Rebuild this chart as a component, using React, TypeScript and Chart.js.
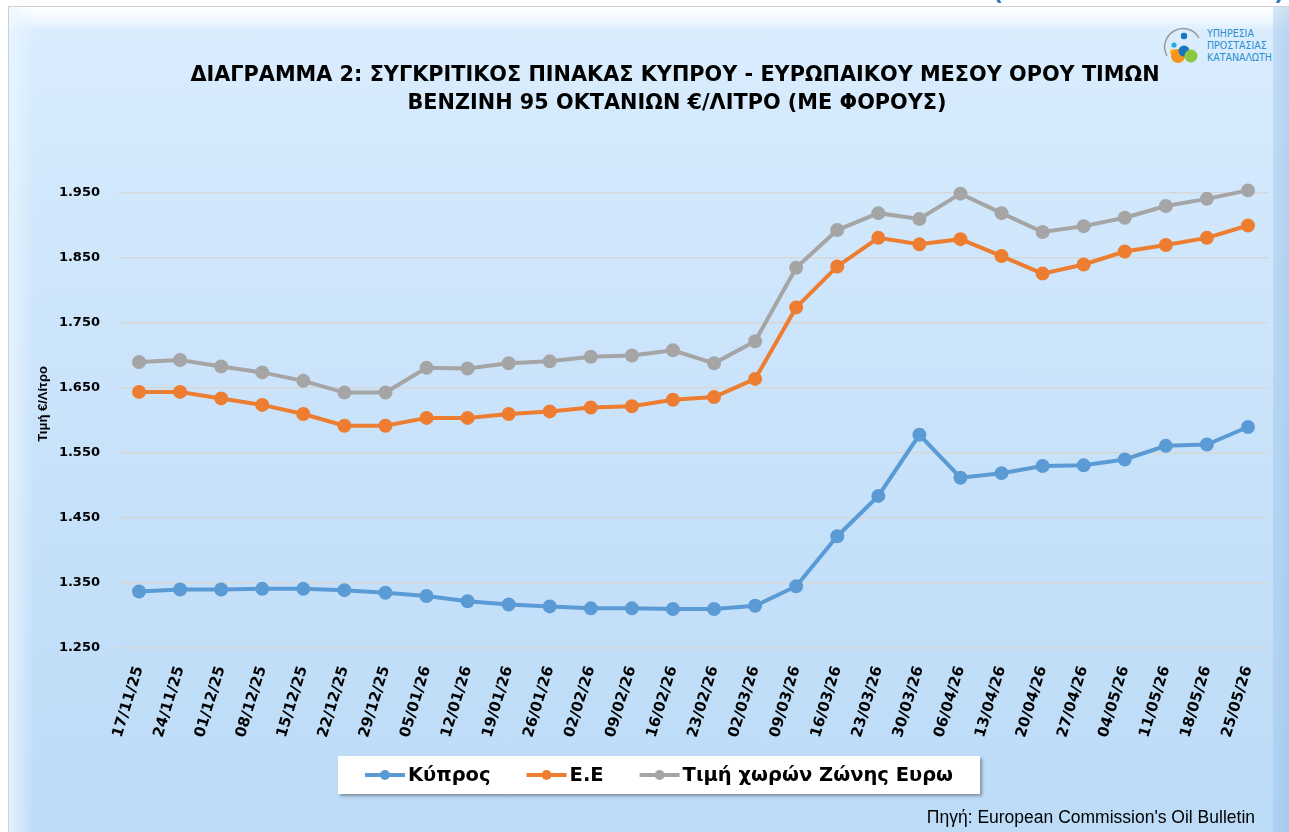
import React, { useEffect, useRef } from 'react';
import { Chart, registerables } from 'chart.js';

Chart.register(...registerables);

const dates = [
  '17/11/25', '24/11/25', '01/12/25', '08/12/25', '15/12/25', '22/12/25', '29/12/25',
  '05/01/26', '12/01/26', '19/01/26', '26/01/26', '02/02/26', '09/02/26', '16/02/26',
  '23/02/26', '02/03/26', '09/03/26', '16/03/26', '23/03/26', '30/03/26', '06/04/26',
  '13/04/26', '20/04/26', '27/04/26', '04/05/26', '11/05/26', '18/05/26', '25/05/26',
];

const cyprusPrices = [
  1.337, 1.340, 1.340, 1.341, 1.341, 1.339, 1.335, 1.330, 1.322, 1.317, 1.314, 1.311, 1.311, 1.310,
  1.310, 1.315, 1.345, 1.422, 1.484, 1.578, 1.512, 1.519, 1.530, 1.531, 1.540, 1.561, 1.563, 1.590,
];

const euPrices = [
  1.644, 1.644, 1.634, 1.624, 1.610, 1.592, 1.592, 1.604, 1.604, 1.610, 1.614, 1.620, 1.622, 1.632,
  1.636, 1.664, 1.774, 1.837, 1.881, 1.871, 1.879, 1.853, 1.826, 1.840, 1.860, 1.870, 1.881, 1.900,
];

const euroZonePrices = [
  1.690, 1.693, 1.683, 1.674, 1.661, 1.643, 1.643, 1.681, 1.680, 1.688, 1.691, 1.698, 1.700, 1.708,
  1.688, 1.722, 1.835, 1.893, 1.919, 1.910, 1.949, 1.919, 1.890, 1.899, 1.912, 1.930, 1.941, 1.954,
];

const seriesNames = ['Κύπρος', 'Ε.Ε', 'Τιμή χωρών Ζώνης Ευρω'];
const seriesColors = ['#5b9bd5', '#ed7d31', '#a5a5a5'];

const Y_MIN = 1.25;
const Y_MAX = 1.95;
const Y_STEP = 0.1;

const titleLines = [
  'ΔΙΑΓΡΑΜΜΑ 2: ΣΥΓΚΡΙΤΙΚΟΣ ΠΙΝΑΚΑΣ ΚΥΠΡΟΥ - ΕΥΡΩΠΑΙΚΟΥ ΜΕΣΟΥ ΟΡΟΥ ΤΙΜΩΝ',
  'ΒΕΝΖΙΝΗ 95 ΟΚΤΑΝΙΩΝ €/ΛΙΤΡΟ (ΜΕ ΦΟΡΟΥΣ)',
];
const yAxisTitle = 'Τιμή €/Λίτρο';
const sourceText = "Πηγή: European Commission's Oil Bulletin";

const decorPlugin = {
  id: 'decor',
  afterDraw(chart: any) {
    const ctx: CanvasRenderingContext2D = chart.ctx;
    // Title
    ctx.save();
    ctx.fillStyle = '#000';
    ctx.textAlign = 'center';
    ctx.textBaseline = 'alphabetic';
    ctx.font = 'bold 20.8px "DejaVu Sans"';
    ctx.fillText(titleLines[0], 675, 81);
    ctx.fillText(titleLines[1], 677, 109);
    ctx.restore();

    // Y axis title
    ctx.save();
    ctx.translate(43, 404);
    ctx.rotate(-Math.PI / 2);
    ctx.font = 'bold 13px "Liberation Sans"';
    ctx.fillStyle = '#000';
    ctx.textAlign = 'center';
    ctx.textBaseline = 'middle';
    ctx.fillText(yAxisTitle, 0, 0);
    ctx.restore();

    // Legend box
    const bx = 338, by = 756, bw = 642, bh = 38;
    ctx.save();
    ctx.shadowColor = 'rgba(0,0,0,0.35)';
    ctx.shadowBlur = 3;
    ctx.shadowOffsetX = 2;
    ctx.shadowOffsetY = 2;
    ctx.fillStyle = '#ffffff';
    ctx.fillRect(bx, by, bw, bh);
    ctx.restore();

    ctx.save();
    ctx.font = 'bold 19.5px "DejaVu Sans"';
    ctx.textBaseline = 'middle';
    ctx.textAlign = 'left';
    const markerW = 40, gapMT = 3, gapItems = 36;
    const items = chart.data.datasets.map((ds: any) => ({
      label: ds.label as string,
      color: ds.borderColor as string,
      w: ctx.measureText(ds.label).width,
    }));
    const total = items.reduce((s: number, it: any) => s + markerW + gapMT + it.w, 0) + gapItems * (items.length - 1);
    let x = bx + (bw - total) / 2;
    const cy = by + bh / 2;
    items.forEach((it: any) => {
      ctx.strokeStyle = it.color;
      ctx.lineWidth = 4;
      ctx.beginPath();
      ctx.moveTo(x, cy);
      ctx.lineTo(x + markerW, cy);
      ctx.stroke();
      ctx.fillStyle = it.color;
      ctx.beginPath();
      ctx.arc(x + markerW / 2, cy, 5, 0, Math.PI * 2);
      ctx.fill();
      ctx.fillStyle = '#000';
      ctx.fillText(it.label, x + markerW + gapMT, cy + 1);
      x += markerW + gapMT + it.w + gapItems;
    });
    ctx.restore();

    // Source
    ctx.save();
    ctx.font = '17.5px "Liberation Sans"';
    ctx.fillStyle = '#000';
    ctx.textAlign = 'right';
    ctx.textBaseline = 'alphabetic';
    ctx.fillText(sourceText, 1255, 823);
    ctx.restore();
  },
};

export default function App() {
  const canvasRef = useRef<HTMLCanvasElement | null>(null);

  useEffect(() => {
    if (!canvasRef.current) return;
    const datasets = [cyprusPrices, euPrices, euroZonePrices].map((data, i) => ({
      label: seriesNames[i],
      data,
      borderColor: seriesColors[i],
      backgroundColor: seriesColors[i],
      pointBackgroundColor: seriesColors[i],
      pointBorderColor: seriesColors[i],
      borderWidth: 4,
      pointRadius: 5,
      pointHoverRadius: 5,
      tension: 0,
      clip: false as any,
    }));

    const chart = new Chart(canvasRef.current, {
      type: 'line',
      data: { labels: dates, datasets },
      options: {
        responsive: false,
        animation: false,
        devicePixelRatio: 1,
        layout: { padding: { left: 0, right: 20.5, top: 193, bottom: 64 } },
        plugins: {
          legend: { display: false },
          title: { display: false },
          tooltip: { enabled: false },
        },
        scales: {
          x: {
            offset: true,
            grid: { display: false, drawTicks: false },
            border: { display: false },
            ticks: {
              autoSkip: false,
              minRotation: 73,
              maxRotation: 73,
              padding: 16,
              color: '#000',
              font: { family: '"DejaVu Sans"', weight: 'bold', size: 15 },
            },
            afterFit(scale: any) {
              scale.height = 120;
            },
          },
          y: {
            min: Y_MIN,
            max: Y_MAX,
            grid: { color: 'rgba(214,214,214,0.95)', lineWidth: 1.5, drawTicks: false },
            border: { display: false },
            ticks: {
              stepSize: Y_STEP,
              padding: 18.5,
              color: '#000',
              font: { family: '"DejaVu Sans"', weight: 'bold', size: 13 },
              callback: (v: any) => Number(v).toFixed(3),
            },
            afterFit(scale: any) {
              scale.width = 118.5;
            },
          },
        },
      },
      plugins: [decorPlugin],
    });
    return () => chart.destroy();
  }, []);

  return (
    <div style={{ position: 'fixed', left: 0, top: 0, width: 1289, height: 832, background: '#fff', overflow: 'hidden' }}>
      <div style={{ position: 'absolute', left: 993, top: -20, color: '#2e75b6', font: 'bold 22px "DejaVu Sans"' }}>(</div>
      <div style={{ position: 'absolute', left: 1274, top: -20, color: '#2e75b6', font: 'bold 22px "DejaVu Sans"' }}>)</div>
      <div
        style={{
          position: 'absolute', left: 8, top: 6, width: 1300, height: 840,
          borderLeft: '1px solid #cfcfcf', borderTop: '1px solid #cfcfcf',
          background: 'linear-gradient(to bottom, #dbeefe 0%, #d2e8fc 20%, #c6e1fa 60%, #bcdbf7 100%)',
        }}
      >
        <div style={{ position: 'absolute', left: 0, top: 0, width: '100%', height: 24, background: 'linear-gradient(to bottom, #ffffff 0%, rgba(255,255,255,0.6) 50%, rgba(255,255,255,0) 100%)' }} />
        <div style={{ position: 'absolute', left: 0, top: 0, width: 26, height: '100%', background: 'linear-gradient(to right, rgba(235,246,255,0.8), rgba(235,246,255,0))' }} />
        <div style={{ position: 'absolute', left: 1264, top: 0, width: 40, height: '100%', background: 'linear-gradient(to right, rgba(150,190,230,0.35), rgba(130,175,222,0.6))' }} />
      </div>
      <svg style={{ position: 'absolute', left: 1162, top: 25 }} width={42} height={40} viewBox="0 0 42 40">
        <path d="M5 31 A 17 17 0 0 1 37 13" fill="none" stroke="#9a9a9a" strokeWidth={1.5} />
        <circle cx={22} cy={11} r={3.2} fill="#1b75bc" />
        <circle cx={12} cy={20} r={2.6} fill="#27aae1" />
        <circle cx={11} cy={27} r={3} fill="#fdb913" />
        <circle cx={16} cy={31} r={7} fill="#f7941d" />
        <circle cx={22} cy={26} r={5.5} fill="#1b75bc" />
        <circle cx={29} cy={31} r={6.5} fill="#8dc63f" />
      </svg>
      <div style={{ position: 'absolute', left: 1207, top: 27, color: '#2a8fd0', font: '10.5px "DejaVu Sans Condensed", "DejaVu Sans"', lineHeight: '12px' }}>
        <div>ΥΠΗΡΕΣΙΑ</div>
        <div>ΠΡΟΣΤΑΣΙΑΣ</div>
        <div>ΚΑΤΑΝΑΛΩΤΗ</div>
      </div>
      <canvas
        ref={canvasRef}
        width={1289}
        height={832}
        style={{ position: 'absolute', left: 0, top: 0, width: 1289, height: 832 }}
      />
    </div>
  );
}
